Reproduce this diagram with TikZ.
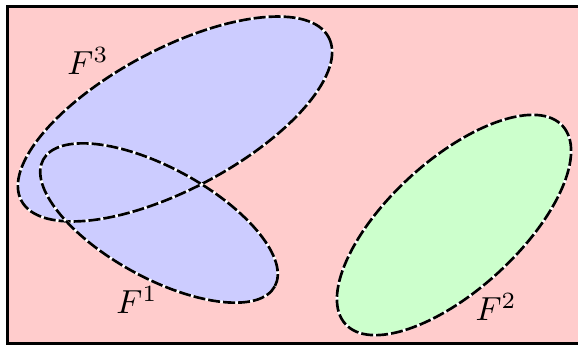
\documentclass[tikz,border=0pt]{standalone}
\usepackage{tikz}

\tikzset{
  conjunto/.style={draw=white, line width=0.8pt,
    postaction={draw=black, dash pattern=on 3.6pt off 0.9pt}},
}

\begin{document}
\begin{tikzpicture}[x=0.3pt, y=-0.3pt]

\clip (0,0) rectangle (578,347);

% Marco
\draw[line width=0.9pt, fill=red!20] (7,7) rectangle (585,343);

% Rellenos
\fill[blue!20, rotate around={28:(175,119)}] (175,119) ellipse [x radius=174, y radius=70];
\fill[blue!20, rotate around={-28.7:(159,223)}] (159,223) ellipse [x radius=132, y radius=55];
\fill[green!20, rotate around={42.4:(454,225)}] (454,225) ellipse [x radius=147, y radius=65];

% Bordes
\path[conjunto, rotate around={28:(175,119)}] (175,119) ellipse [x radius=174, y radius=70];
\path[conjunto, rotate around={-28.7:(159,223)}] (159,223) ellipse [x radius=132, y radius=55];
\path[conjunto, rotate around={42.4:(454,225)}] (454,225) ellipse [x radius=147, y radius=65];

% Etiquetas
\node (F3) at (88,61) {$F^3$};
\node (F1) at (137,300) {$F^1$};
\node (F2) at (496,307) {$F^2$};

\end{tikzpicture}
\end{document}
